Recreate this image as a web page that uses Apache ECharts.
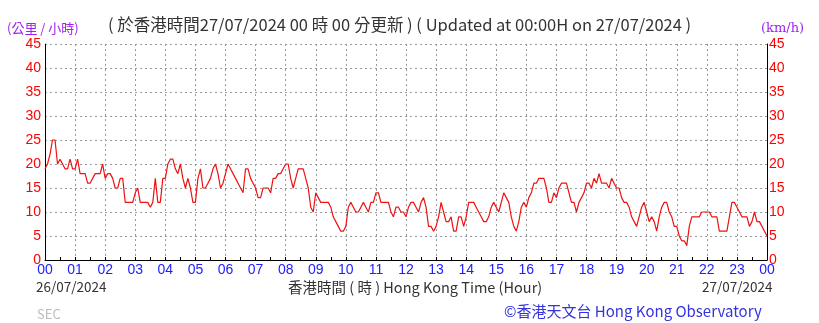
<!DOCTYPE html>
<html><head><meta charset="utf-8">
<script src="https://cdn.jsdelivr.net/npm/echarts@6/dist/echarts.min.js"></script>
<style>html,body{margin:0;padding:0;background:#fff}#c{width:819px;height:323px}</style>
</head><body><div id="c"></div>
<script>
// Wind speed (km/h), 5-minute samples from 00:00 26/07/2024 to 00:00 27/07/2024 (12 per hour)
const speeds = [
  19,20,22,25,25,20,21,20,19,19,21,19,   // 00
  19,21,18,18,18,16,16,17,18,18,18,20,   // 01
  17,18,18,17,15,15,17,17,12,12,12,12,   // 02
  14,15,12,12,12,12,11,12,17,12,12,17,   // 03
  17,20,21,21,19,18,20,17,15,17,15,12,   // 04
  12,17,19,15,15,16,17,19,20,18,15,16,   // 05
  18,20,19,18,17,16,15,14,19,19,17,16,   // 06
  15,13,13,15,15,15,14,17,17,18,18,19,   // 07
  20,20,17,15,17,19,19,19,17,15,11,10,   // 08
  14,13,12,12,12,12,11,9,8,7,6,6,        // 09
  7,11,12,11,10,10,11,12,11,10,12,12,    // 10
  14,14,12,12,12,12,10,9,11,11,10,10,    // 11
  9,11,12,12,11,10,12,13,11,7,7,6,       // 12
  7,9,12,10,8,8,9,6,6,9,9,7,             // 13
  9,12,12,12,11,10,9,8,8,9,11,12,        // 14
  11,10,12,14,13,12,9,7,6,8,11,12,       // 15
  11,13,14,16,16,17,17,17,15,12,12,14,   // 16
  13,15,16,16,16,14,12,12,10,12,13,14,   // 17
  16,16,15,17,16,18,16,16,16,15,17,16,   // 18
  15,15,13,12,12,11,9,8,7,9,11,12,       // 19
  10,8,9,8,6,9,11,12,12,10,9,7,          // 20
  7,5,4,4,3,7,9,9,9,9,10,10,             // 21
  10,10,9,9,9,6,6,6,6,9,12,12,           // 22
  11,10,9,9,9,7,8,10,8,8,7,6,            // 23
  5
];
const hourLabels = ['00','01','02','03','04','05','06','07','08','09','10','11','12',
  '13','14','15','16','17','18','19','20','21','22','23','00'];
const yTicks = [0,5,10,15,20,25,30,35,40,45];
const titleZh = '( 於香港時間27/07/2024 00 時 00 分更新 )';
const titleEn = '( Updated at 00:00H on 27/07/2024 )';
const startDate = '26/07/2024';
const endDate = '27/07/2024';
const xTitle = '香港時間 ( 時 ) Hong Kong Time (Hour)';
const credit = '©香港天文台 Hong Kong Observatory';
const unitZh = '(公里 / 小時)';
const unitEn = '(km/h)';
const station = 'SEC';

const points = speeds.map((v, i) => [i / 12, v]);
const FONT = '"Noto Sans CJK TC","Noto Sans",sans-serif';

const chart = echarts.init(document.getElementById('c'), null, {renderer: 'canvas'});
const yAxisCommon = {
  type: 'value', min: yTicks[0], max: yTicks[yTicks.length - 1], interval: 5,
  axisLine: {show: true, lineStyle: {color: '#000', width: 1}},
  axisTick: {show: false},
  axisLabel: {color: '#ff0000', fontSize: 14, fontFamily: 'Liberation Sans, sans-serif', margin: 4},
};
chart.setOption({
  animation: false,
  backgroundColor: '#fff',
  grid: {left: 45, right: 52, top: 44, bottom: 63, containLabel: false},
  title: [
    {text: titleZh + ' ' + titleEn, left: 103, top: 11,
     textStyle: {fontSize: 16.5, fontWeight: 'normal', color: '#333', fontFamily: FONT}},
    {text: unitZh, left: 2, top: 17,
     textStyle: {fontSize: 13, fontWeight: 'normal', color: '#a020f0', fontFamily: FONT}},
    {text: unitEn, left: 756, top: 17,
     textStyle: {fontSize: 13, fontWeight: 'normal', color: '#a020f0', fontFamily: 'DejaVu Serif, serif'}},
    {text: startDate, left: 31, top: 275,
     textStyle: {fontSize: 13.5, fontWeight: 'normal', color: '#333', fontFamily: FONT}},
    {text: xTitle, left: 283, top: 275,
     textStyle: {fontSize: 14.5, fontWeight: 'normal', color: '#333', fontFamily: FONT}},
    {text: endDate, left: 697, top: 275,
     textStyle: {fontSize: 13.5, fontWeight: 'normal', color: '#333', fontFamily: FONT}},
    {text: credit, left: 499, top: 299,
     textStyle: {fontSize: 15, fontWeight: 'normal', color: '#3333dd', fontFamily: FONT}},
    {text: station, left: 32, top: 303,
     textStyle: {fontSize: 13, fontWeight: 'normal', color: '#bbbbbb', fontFamily: FONT}}
  ],
  xAxis: {
    type: 'value', min: 0, max: 24, interval: 1,
    axisLine: {show: true, onZero: false, lineStyle: {color: '#000', width: 1}},
    axisTick: {show: true, length: 3, inside: true, lineStyle: {color: '#000'}},
    minorTick: {show: true, splitNumber: 2, length: 3, lineStyle: {color: '#000'}},
    axisLabel: {color: '#2020ff', fontSize: 14, fontFamily: 'Liberation Sans, sans-serif', margin: 3,
      formatter: v => hourLabels[Math.round(v)]},
    splitLine: {show: true, lineStyle: {color: '#999', type: [2, 3], width: 1}}
  },
  yAxis: [
    Object.assign({}, yAxisCommon, {position: 'left',
      splitLine: {show: true, lineStyle: {color: '#999', type: [2, 3], width: 1}}}),
    Object.assign({}, yAxisCommon, {position: 'right', splitLine: {show: false},
      axisLabel: Object.assign({}, yAxisCommon.axisLabel, {margin: 2})})
  ],
  series: [{
    type: 'line', data: points, yAxisIndex: 0, showSymbol: false,
    lineStyle: {color: '#ee1111', width: 1.2}, z: 5
  }]
});
</script></body></html>
